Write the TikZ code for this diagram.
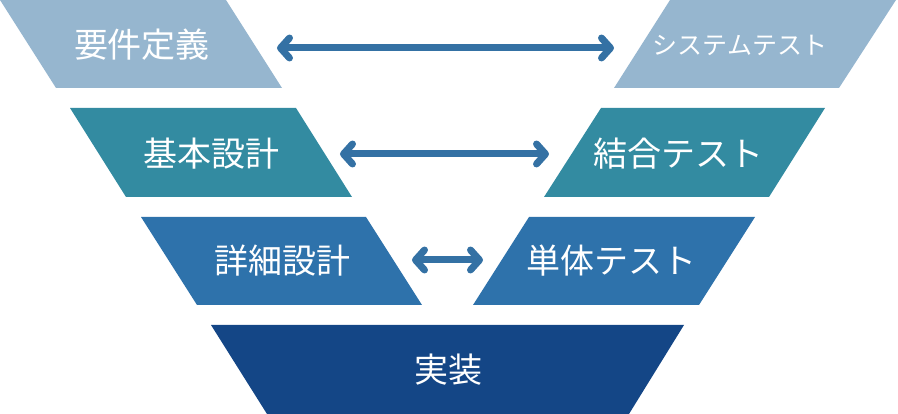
\documentclass[tikz,border=0pt]{standalone}
\usepackage{fontspec}
\newfontfamily\jp{Noto Sans CJK JP}
\usetikzlibrary{arrows.meta}
\definecolor{cA}{HTML}{96B6CF}
\definecolor{cB}{HTML}{338BA1}
\definecolor{cC}{HTML}{2E72AB}
\definecolor{cD}{HTML}{144686}
\definecolor{arr}{HTML}{3471A4}
\tikzset{
 lbl/.style={text=white,font=\jp\fontsize{34}{36}\selectfont,inner sep=0pt},
 slbl/.style={text=white,font=\jp\fontsize{25}{27}\selectfont,inner sep=0pt},
 link/.style={draw=arr,line width=7pt,{Straight Barb[round,length=9pt,width=20pt]}-{Straight Barb[round,length=9pt,width=20pt]}}
}
\begin{document}
\begin{tikzpicture}[x=1pt,y=-1pt]
\useasboundingbox (0,0) rectangle (898,414);
% row 1
\fill[cA] (0,0)--(226,0)--(282,88)--(56,88)--cycle;
\fill[cA] (670,0)--(896,0)--(839,88)--(614,88)--cycle;
% row 2
\fill[cB] (70,108)--(296,108)--(352,197)--(126,197)--cycle;
\fill[cB] (601,108)--(825,108)--(769,197)--(544,197)--cycle;
% row 3
\fill[cC] (141,217)--(366,217)--(422,305)--(197,305)--cycle;
\fill[cC] (529,217)--(755,217)--(699,305)--(473,305)--cycle;
% row 4
\fill[cD] (211,325)--(684,325)--(629,414)--(267,414)--cycle;
\node[lbl] (n1) at (142,45) {要件定義};
\node[slbl] (n2) at (740,45) {システムテスト};
\node[lbl] (n3) at (211,154) {基本設計};
\node[lbl] (n4) at (678,154) {結合テスト};
\node[lbl] (n5) at (282,261) {詳細設計};
\node[lbl] (n6) at (611,261) {単体テスト};
\node[lbl] (n7) at (448,370) {実装};
\coordinate (a1) at (277,48); \coordinate (b1) at (614,48);
\coordinate (a2) at (340,154); \coordinate (b2) at (549,154);
\coordinate (a3) at (412,260); \coordinate (b3) at (483,260);
\draw[link] (a1)--(b1);
\draw[link] (a2)--(b2);
\draw[link] (a3)--(b3);
\end{tikzpicture}
\end{document}
